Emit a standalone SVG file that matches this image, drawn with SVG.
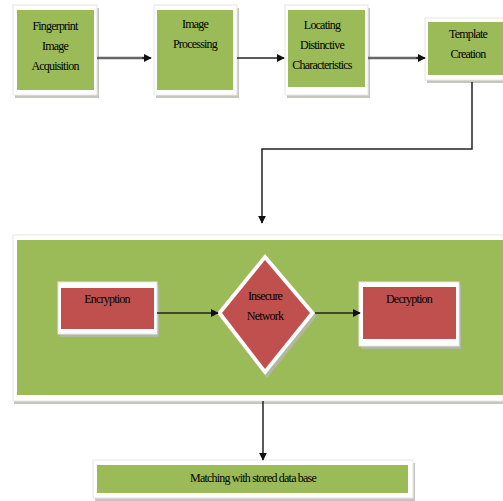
<svg xmlns="http://www.w3.org/2000/svg" width="503" height="501" viewBox="0 0 503 501">
<style>
.sh{fill:#b8b8b0;opacity:0.8}
.wb{fill:#ffffff;stroke:#e6e6e6;stroke-width:1}
.g{fill:#9bbb59}
.r{fill:#c0504d}
.t{font-family:"Liberation Serif","Times New Roman",serif;font-size:12px;fill:#000;text-anchor:middle;letter-spacing:-0.8px}
.ln{stroke:#222;stroke-width:1.5;fill:none}
.lg{stroke:#666;stroke-width:2.5;fill:none}
</style>
<defs>
<marker id="ah" viewBox="0 0 10 10" refX="9" refY="5" markerWidth="8" markerHeight="8" markerUnits="userSpaceOnUse" orient="auto">
<path d="M0,0 L10,5 L0,10 z" fill="#111"/>
</marker>
</defs>
<g id="container">
<rect class="sh" x="14" y="238" width="489" height="166"/>
<rect class="wb" x="13" y="235" width="490" height="166"/>
<rect class="g" x="17" y="240" width="486" height="155"/>
</g>
<g id="n1">
<rect class="sh" x="15" y="8" width="84" height="90"/>
<rect class="wb" x="13" y="5" width="84" height="90"/>
<rect class="g" x="17" y="10" width="77" height="80"/>
<text class="t" x="55" y="30">Fingerprint</text>
<text class="t" x="55" y="50">Image</text>
<text class="t" x="55" y="70">Acquisition</text>
</g>
<g id="n2">
<rect class="sh" x="156" y="8" width="83" height="90"/>
<rect class="wb" x="154" y="5" width="83" height="90"/>
<rect class="g" x="157" y="10" width="76" height="80"/>
<text class="t" x="195" y="28">Image</text>
<text class="t" x="195" y="48">Processing</text>
</g>
<g id="n3">
<rect class="sh" x="287" y="8" width="83" height="90"/>
<rect class="wb" x="285" y="5" width="83" height="90"/>
<rect class="g" x="288" y="10" width="77" height="77"/>
<text class="t" x="322" y="29">Locating</text>
<text class="t" x="322" y="49">Distinctive</text>
<text class="t" x="322" y="69">Characteristics</text>
</g>
<g id="n4">
<rect class="sh" x="427" y="21" width="76" height="62"/>
<rect class="wb" x="425" y="18" width="78" height="62"/>
<rect class="g" x="428" y="22" width="75" height="53"/>
<text class="t" x="468" y="38">Template</text>
<text class="t" x="468" y="58">Creation</text>
</g>
<g id="n5">
<rect class="sh" x="60" y="285" width="99" height="52"/>
<rect class="wb" x="58" y="282" width="99" height="52"/>
<rect class="r" x="61" y="288" width="93" height="41"/>
<text class="t" x="107" y="303">Encryption</text>
</g>
<g id="n6">
<polygon class="sh" points="267,257 317,316 267,378 219,316"/>
<polygon points="265,254 315,313 265,375 217,313" fill="#ffffff"/>
<polygon class="r" points="265,260 310,313 265,369 222,313"/>
<text class="t" x="265" y="300">Insecure</text>
<text class="t" x="265" y="320">Network</text>
</g>
<g id="n7">
<rect class="sh" x="361" y="285" width="100" height="64"/>
<rect class="wb" x="359" y="282" width="100" height="64"/>
<rect class="r" x="363" y="287" width="93" height="52"/>
<text class="t" x="409" y="303">Decryption</text>
</g>
<g id="n8">
<rect class="sh" x="95" y="463" width="320" height="38"/>
<rect class="wb" x="93" y="460" width="320" height="38"/>
<rect class="g" x="97" y="465" width="311" height="28"/>
<text class="t" x="253" y="482">Matching with stored data base</text>
</g>
<g id="connectors">
<line class="lg" x1="97" y1="58" x2="144" y2="58"/>
<line class="ln" x1="142" y1="58" x2="151" y2="58" marker-end="url(#ah)"/>
<line class="ln" x1="237" y1="58" x2="284" y2="58" marker-end="url(#ah)"/>
<line class="lg" x1="368" y1="58" x2="418" y2="58"/>
<line class="ln" x1="416" y1="58" x2="425" y2="58" marker-end="url(#ah)"/>
<polyline class="ln" points="472,82 472,149 262,149 262,223" marker-end="url(#ah)"/>
<line class="ln" x1="157" y1="313" x2="218" y2="313" marker-end="url(#ah)"/>
<line class="ln" x1="315" y1="313" x2="360" y2="313" marker-end="url(#ah)"/>
<line class="ln" x1="263" y1="401" x2="263" y2="460" marker-end="url(#ah)"/>
</g>
</svg>
